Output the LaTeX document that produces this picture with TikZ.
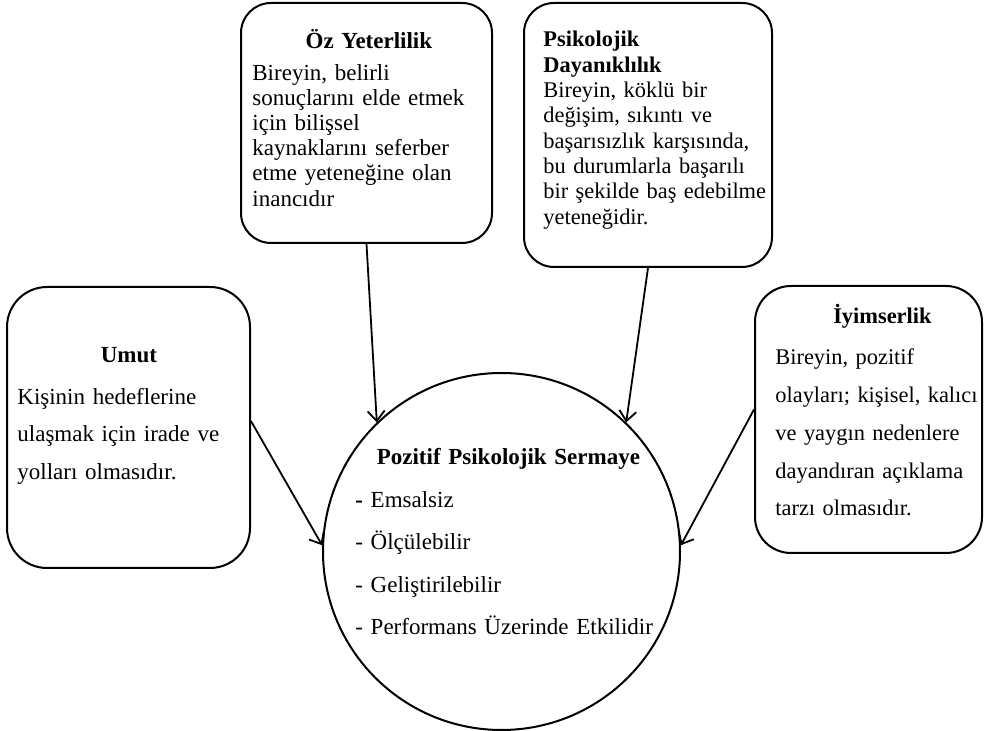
\documentclass[tikz,border=0pt]{standalone}
\usepackage{fontspec}
\setmainfont{Liberation Serif}
\usetikzlibrary{arrows.meta}
\newcommand{\cardtitle}[1]{\hfill\textbf{#1}\hfill\null}
\begin{document}
\begin{tikzpicture}[x=.5pt,y=-.5pt,
  card/.style={draw,line width=1pt,rounded corners=15pt,inner sep=0pt},
  txt/.style={anchor=base west,align=left,inner sep=0pt},
  link/.style={line width=.9pt,-{Straight Barb[length=5pt,width=8.5pt]}}]
\useasboundingbox (0,0) rectangle (987,731);
\node[card,minimum width=125.5pt,minimum height=120pt] (oz) at (366.5,123) {};
\node[card,minimum width=124pt,minimum height=132pt] (day) at (648,135) {};
\node[card,minimum width=121.5pt,minimum height=140.5pt,rounded corners=20pt] (umut) at (128.5,427.5) {};
\node[card,minimum width=113.5pt,minimum height=133.5pt,rounded corners=18pt] (iyim) at (868.5,419.5) {};
\node[draw,circle,line width=1pt,minimum size=178.5pt,inner sep=0pt] (pps) at (501.5,551.5) {};
\node[txt,text width=116.5pt,font=\fontsize{11.5}{12.6}\selectfont] (oztxt) at (252,49)
  {\cardtitle{Öz Yeterlilik}\\[3pt]
   Bireyin, belirli\\ sonuçlarını elde etmek\\ için bilişsel\\ kaynaklarını seferber\\
   etme yeteneğine olan\\ inancıdır};
\node[txt,text width=120pt,font=\fontsize{11.2}{12.65}\selectfont] (daytxt) at (543,47)
  {\textbf{Psikolojik}\\ \textbf{Dayanıklılık}\\
   Bireyin, köklü bir\\ değişim, sıkıntı ve\\ başarısızlık karşısında,\\
   bu durumlarla başarılı\\ bir şekilde baş edebilme\\ yeteneğidir.};
\node[txt,text width=111.5pt,font=\fontsize{11.5}{18.75}\selectfont] (umuttxt) at (17,363)
  {\cardtitle{Umut}\\[2pt]
   Kişinin hedeflerine\\ ulaşmak için irade ve\\ yolları olmasıdır.};
\node[txt,text width=107pt,font=\fontsize{11.2}{18.9}\selectfont] (iyimtxt) at (775,324)
  {\cardtitle{İyimserlik}\\[1.5pt]
   Bireyin, pozitif\\ olayları; kişisel, kalıcı\\ ve yaygın nedenlere\\
   dayandıran açıklama\\ tarzı olmasıdır.};
\node[txt,text width=153pt,font=\fontsize{11.5}{21.25}\selectfont] (ppstxt) at (355,465)
  {\cardtitle{Pozitif Psikolojik Sermaye}\\
   \textbf{-} Emsalsiz\\ - Ölçülebilir\\ - Geliştirilebilir\\ - Performans Üzerinde Etkilidir};
\draw[link] (oz.south) -- (pps.134);
\draw[link] (day.south) -- (pps.46);
\draw[link] (umut.3) -- (pps.178);
\draw[link] (iyim.175) -- (pps.2);
\end{tikzpicture}
\end{document}
